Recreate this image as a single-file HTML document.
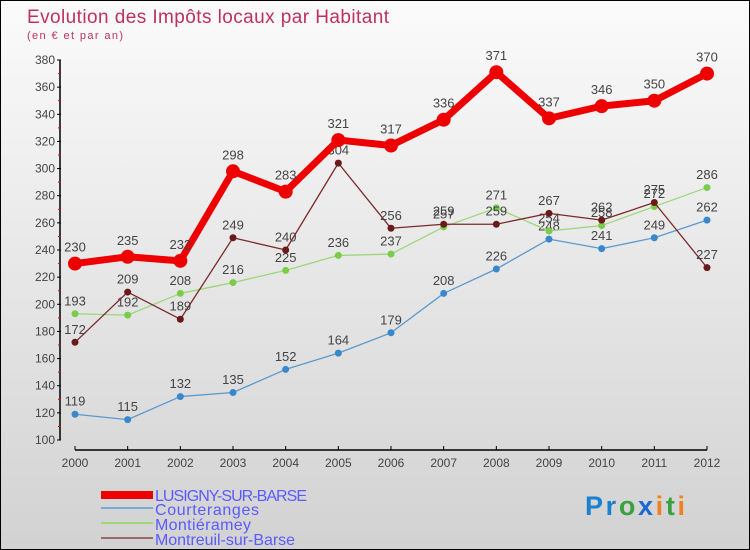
<!DOCTYPE html>
<html><head><meta charset="utf-8"><style>
html,body{margin:0;padding:0}
body{width:750px;height:550px;overflow:hidden;font-family:"Liberation Sans",sans-serif}
#wrap{position:relative;width:748px;height:548px;border:1px solid #000;background:linear-gradient(#fbfbfb,#d2d2d2)}
</style></head><body>
<div id="wrap">
<svg id="chart" width="748" height="548" style="position:absolute;left:0;top:0">
<text x="26" y="22" font-size="19" textLength="362" fill="#c0305e">Evolution des Impôts locaux par Habitant</text>
<text x="26" y="38" font-size="11" textLength="96" fill="#c0305e">(en € et par an)</text>
<g id="axes"></g><g id="series"></g>
<g>
<rect x="100" y="490" width="52" height="8" fill="#e00"/>
<text x="154" y="500" font-size="16" textLength="152" fill="#5a5aff">LUSIGNY-SUR-BARSE</text>
<line x1="100" y1="507" x2="152" y2="507" stroke="#7aaad0" stroke-width="2"/>
<text x="154" y="514" font-size="16" textLength="104" fill="#5a5aff">Courteranges</text>
<line x1="100" y1="522" x2="152" y2="522" stroke="#9ed67a" stroke-width="2"/>
<text x="154" y="529" font-size="16" textLength="96" fill="#5a5aff">Montiéramey</text>
<line x1="100" y1="537" x2="152" y2="537" stroke="#9a6a6a" stroke-width="2"/>
<text x="154" y="544" font-size="16" textLength="140" fill="#5a5aff">Montreuil-sur-Barse</text>
</g>
<text x="584" y="514" font-size="27" font-weight="bold" textLength="100"><tspan fill="#1a80d0">Pr</tspan><tspan fill="#3aa040">o</tspan><tspan fill="#1a6ad0">x</tspan><tspan fill="#f08020">i</tspan><tspan fill="#3aa040">t</tspan><tspan fill="#f08020">i</tspan></text>
</svg></div>
<script>
const years=[2000,2001,2002,2003,2004,2005,2006,2007,2008,2009,2010,2011,2012];
const yTicks=[100,120,140,160,180,200,220,240,260,280,300,320,340,360,380];
const lusigny=[230,235,232,298,283,321,317,336,371,337,346,350,370];
const courteranges=[119,115,132,135,152,164,179,208,226,248,241,249,262];
const montieramey=[193,192,208,216,225,236,237,257,271,254,258,272,286];
const montreuil=[172,209,189,249,240,304,256,259,259,267,262,275,227];
const NS="http://www.w3.org/2000/svg";
function X(i){return 74+i*(632/12);}
function Y(v){return 439-(v-100)*(380/280);}
function mk(t,a,p){const e=document.createElementNS(NS,t);for(const k in a)e.setAttribute(k,a[k]);p.appendChild(e);return e;}
const ax=document.getElementById('axes');
const yl=mk('line',{x1:59,y1:Y(380),x2:59,y2:Y(100),stroke:'#000','stroke-width':1.5},ax);


yTicks.forEach(v=>{mk('line',{x1:56,y1:Y(v),x2:60,y2:Y(v),stroke:'#000'},ax);
const t=mk('text',{x:54,y:Y(v)+4,'font-size':12,fill:'#444','text-anchor':'end'},ax);t.textContent=v;


if(v<380)mk('line',{x1:57,y1:Y(v+10),x2:60,y2:Y(v+10),stroke:'#e00'},ax);});
const xl=mk('line',{x1:X(0),y1:449,x2:X(12),y2:449,stroke:'#000','stroke-width':1.5},ax);


years.forEach((y,i)=>{mk('line',{x1:X(i),y1:445,x2:X(i),y2:449,stroke:'#000'},ax);
const t=mk('text',{x:X(i),y:466,'font-size':12,fill:'#444','text-anchor':'middle'},ax);t.textContent=y;

});
const sg=document.getElementById('series');
function draw(vals,name,col,dot,w,r){
const g=mk('g',{},sg);


mk('polyline',{points:vals.map((v,i)=>X(i)+','+Y(v)).join(' '),fill:'none',stroke:col,'stroke-width':w,'stroke-linejoin':'round'},g);
vals.forEach((v,i)=>{const c=mk('circle',{cx:X(i),cy:Y(v),r:r,fill:dot},g);


const t=mk('text',{x:X(i),y:Y(v)-(r+5),'font-size':13,fill:'#444','text-anchor':'middle'},g);t.textContent=v;

});}
draw(courteranges,'courteranges','#5a9ad0','#3a88cc',1.3,3.5);
draw(montieramey,'montieramey','#9ed67a','#7acc4a',1.3,3.5);
draw(montreuil,'montreuil','#7a2a2a','#6a1a1a',1.3,3.5);
draw(lusigny,'lusigny','#e00','#e00',7,7);
</script>
</body></html>
